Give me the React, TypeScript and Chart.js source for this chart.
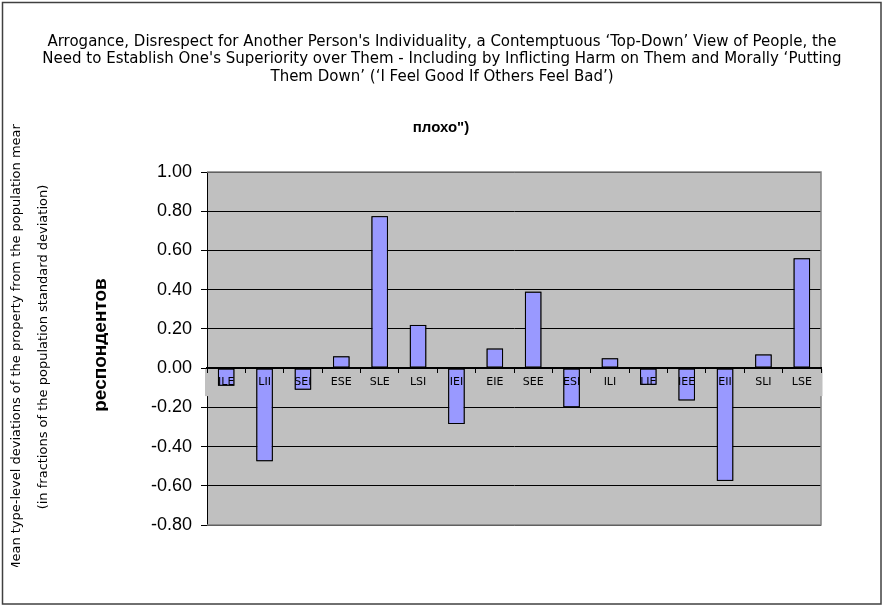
import React, { useEffect, useRef } from "react";
import { Chart, registerables } from "chart.js";

Chart.register(...registerables);

const titleLines = [
  "Arrogance, Disrespect for Another Person's Individuality, a Contemptuous \u2018Top-Down\u2019 View of People, the",
  "Need to Establish One's Superiority over Them - Including by Inflicting Harm on Them and Morally \u2018Putting",
  "Them Down\u2019 (\u2018I Feel Good If Others Feel Bad\u2019)",
];
const subtitle = "\u043f\u043b\u043e\u0445\u043e\")";
const yTitleLines = [
  "Mean type-level deviations of the property from the population mean",
  "(in fractions of the population standard deviation)",
];
const sideWord = "\u0440\u0435\u0441\u043f\u043e\u043d\u0434\u0435\u043d\u0442\u043e\u0432";

const types = [
  "ILE", "LII", "SEI", "ESE", "SLE", "LSI", "IEI", "EIE",
  "SEE", "ESI", "ILI", "LIE", "IEE", "EII", "SLI", "LSE",
];
const deviations = [
  -0.09, -0.475, -0.11, 0.06, 0.775, 0.22, -0.285, 0.1,
  0.39, -0.2, 0.05, -0.085, -0.165, -0.575, 0.07, 0.56,
];

const yMin = -0.8;
const yMax = 1.0;
const yStep = 0.2;

// plot background, frame, label band, bar outlines and the loose texts
const decorPlugin = {
  id: "decor",
  beforeDraw(chart: any) {
    const { ctx, chartArea: a } = chart;
    ctx.save();
    ctx.fillStyle = "#ffffff";
    ctx.fillRect(0, 0, chart.width, chart.height);
    ctx.fillStyle = "#c0c0c0";
    ctx.fillRect(a.left, a.top, a.right - a.left, a.bottom - a.top);
    ctx.restore();
  },
  beforeDatasetsDraw(chart: any) {
    const { ctx, chartArea: a } = chart;
    const zero = chart.scales.y.getPixelForValue(0);
    ctx.save();
    ctx.strokeStyle = "#808080";
    ctx.lineWidth = 1.5;
    ctx.beginPath();
    ctx.moveTo(a.left, a.top);
    ctx.lineTo(a.right, a.top);
    ctx.lineTo(a.right, a.bottom);
    ctx.lineTo(a.left, a.bottom);
    ctx.stroke();
    ctx.fillStyle = "#c0c0c0";
    ctx.fillRect(a.left - 2, zero + 1, a.right - a.left + 3.5, 27);
    ctx.restore();
  },
  afterDraw(chart: any) {
    const { ctx } = chart;
    ctx.save();

    // bar outlines over the labels
    ctx.strokeStyle = "#000000";
    ctx.lineWidth = 1;
    chart.getDatasetMeta(0).data.forEach((el: any) => {
      const { x, y, base, width } = el.getProps(["x", "y", "base", "width"], true);
      const top = Math.min(y, base);
      const h = Math.abs(base - y);
      ctx.strokeRect(x - width / 2 + 0.5, top + 0.5, width - 1, h - 1);
    });

    ctx.fillStyle = "#000000";
    ctx.textAlign = "center";
    ctx.textBaseline = "middle";
    ctx.font = "15px 'DejaVu Sans'";
    titleLines.forEach((line, i) => ctx.fillText(line, 442, 42 + i * 17.5));

    ctx.font = "bold 15px 'Liberation Sans'";
    ctx.fillText(subtitle, 441, 128);

    // rotated axis title, clipped like the original
    ctx.save();
    ctx.beginPath();
    ctx.rect(0, 124, 80, 443);
    ctx.clip();
    ctx.font = "13px 'DejaVu Sans'";
    [17, 44].forEach((x, i) => {
      ctx.save();
      ctx.translate(x, 347);
      ctx.rotate(-Math.PI / 2);
      ctx.fillText(yTitleLines[i], 0, 0);
      ctx.restore();
    });
    ctx.restore();

    ctx.save();
    ctx.beginPath();
    ctx.rect(95, 200, 13, 300);
    ctx.clip();
    ctx.font = "bold 19px 'Liberation Sans'";
    ctx.translate(101, 345);
    ctx.rotate(-Math.PI / 2);
    ctx.fillText(sideWord, 0, 0);
    ctx.restore();

    ctx.strokeStyle = "#404040";
    ctx.lineWidth = 1.5;
    ctx.strokeRect(2.5, 2.5, 878.5, 601.5);
    ctx.restore();
  },
};

export default function App() {
  const canvasRef = useRef<HTMLCanvasElement | null>(null);
  const chartRef = useRef<Chart | null>(null);

  useEffect(() => {
    document.body.style.margin = "0";
    document.body.style.overflow = "hidden";
    if (!canvasRef.current) return;

    chartRef.current = new Chart(canvasRef.current, {
      type: "bar",
      data: {
        labels: types,
        datasets: [
          {
            data: deviations,
            backgroundColor: "#9999ff",
            borderColor: "#000000",
            borderWidth: 1,
            borderSkipped: false,
            barPercentage: 0.43,
            categoryPercentage: 1,
          },
        ],
      },
      options: {
        animation: false,
        responsive: true,
        maintainAspectRatio: false,
        layout: { padding: { left: 0, top: 172, right: 63, bottom: 82 } },
        plugins: {
          legend: { display: false },
          title: { display: false },
          tooltip: { enabled: false },
        },
        scales: {
          x: {
            type: "category",
            position: { y: 0 },
            offset: true,
            grid: {
              display: true,
              drawOnChartArea: false,
              drawTicks: true,
              tickLength: 4,
              color: "#000000",
              offset: true,
              z: 1,
            },
            border: { display: true, color: "#000000", width: 2, z: 1 },
            ticks: {
              color: "#000000",
              font: { family: "DejaVu Sans", size: 11 },
              padding: 3,
              maxRotation: 0,
              autoSkip: false,
              z: 1,
            },
          },
          y: {
            min: yMin,
            max: yMax,
            afterFit: (s: any) => {
              s.width = 207;
            },
            ticks: {
              stepSize: yStep,
              color: "#000000",
              font: { family: "Liberation Sans", size: 18 },
              padding: 9,
              callback: (v: any) => (Math.abs(Number(v)) < 1e-9 ? 0 : Number(v)).toFixed(2),
            },
            grid: { color: "#000000", lineWidth: 1, tickLength: 6 },
            border: { display: true, color: "#000000", width: 1 },
          },
        },
      },
      plugins: [decorPlugin],
    });

    return () => {
      chartRef.current?.destroy();
      chartRef.current = null;
    };
  }, []);

  return (
    <div style={{ position: "relative", width: 884, height: 607 }}>
      <canvas ref={canvasRef} />
    </div>
  );
}
